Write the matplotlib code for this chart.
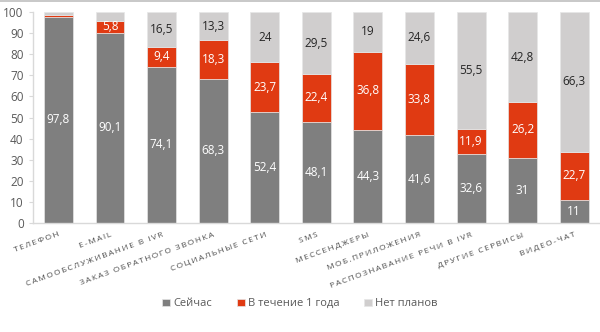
import matplotlib
matplotlib.use("Agg")
import matplotlib.pyplot as plt
import numpy as np
from matplotlib.lines import Line2D

plt.rcParams['font.family'] = ['Open Sans', 'DejaVu Sans']

# data
categories = ["Телефон", "E-mail", "Самообслуживание в IVR", "Заказ обратного звонка",
              "Социальные сети", "SMS", "Мессенджеры", "Моб.приложения",
              "Распознавание речи в IVR", "Другие сервисы", "Видео-чат"]
now = [97.8, 90.1, 74.1, 68.3, 52.4, 48.1, 44.3, 41.6, 32.6, 31, 11]
within_year = [0.6, 5.8, 9.4, 18.3, 23.7, 22.4, 36.8, 33.8, 11.9, 26.2, 22.7]
no_plans = [1.6, 4.1, 16.5, 13.3, 24, 29.5, 19, 24.6, 55.5, 42.8, 66.3]
show_labels = [[True] * 11,
               [False] + [True] * 10,
               [False, False] + [True] * 9]
series_names = ["Сейчас", "В течение 1 года", "Нет планов"]

colors = ["#7f7f7f", "#e03a12", "#d0cece"]
text_colors = ["white", "white", "#262626"]

fig = plt.figure(figsize=(6, 3.32), dpi=100)
ax = fig.add_axes([0.0545, 0.328, 0.9455, 0.636])

x = np.arange(len(categories))
bottom = np.zeros(len(categories))
for k, vals in enumerate([now, within_year, no_plans]):
    vals = np.array(vals, dtype=float)
    bars = ax.bar(x, vals, 0.56, bottom=bottom, color=colors[k],
                  edgecolor="#e6e6e6", linewidth=0.5, label=series_names[k])
    for i, b in enumerate(bars):
        if show_labels[k][i]:
            txt = ("%g" % vals[i]).replace(".", ",")
            ax.text(b.get_x() + b.get_width() / 2, bottom[i] + vals[i] / 2, txt,
                    ha="center", va="center", fontsize=8.5, color=text_colors[k])
    bottom += vals

ax.set_xlim(-0.5, 10.5)
ax.set_ylim(0, 100)
ax.set_yticks(range(0, 101, 10))
ax.tick_params(axis="y", labelsize=8.5, labelcolor="#595959", color="#d9d9d9",
               length=3, width=0.8)
ax.tick_params(axis="x", length=0, pad=6)
ax.set_xticks(x)
spaced = [("\u2009".join(c.upper())) for c in categories]
ax.set_xticklabels(spaced, rotation=20, ha="right", rotation_mode="anchor",
                   fontsize=6, color="#4d4d4d")
for s in ["top", "right"]:
    ax.spines[s].set_visible(False)
for s in ["left", "bottom"]:
    ax.spines[s].set_color("#d9d9d9")
    ax.spines[s].set_linewidth(1)

leg = fig.legend(loc="center", bbox_to_anchor=(0.5, 0.085), ncol=3, frameon=False,
                 fontsize=8, handlelength=0.7, handleheight=0.7, handletextpad=0.3,
                 columnspacing=2.2)
for t in leg.get_texts():
    t.set_color("#595959")

fig.add_artist(Line2D([0, 1], [0.997, 0.997], color="#bfbfbf", linewidth=1.2,
                      transform=fig.transFigure))

fig.savefig("out.png", dpi=100)
